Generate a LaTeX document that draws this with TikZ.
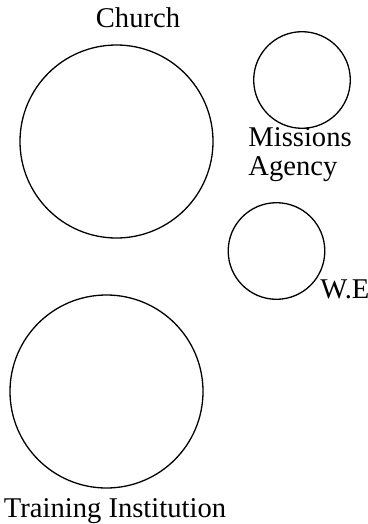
\documentclass[tikz,border=0pt]{standalone}
\usepackage{fontspec}
\setmainfont{Liberation Serif}
\usepackage{tikz}
\usetikzlibrary{positioning}
\tikzstyle{ring} = [circle, draw=black, line width=0.65pt, inner sep=0pt]
\tikzstyle{big} = [ring, minimum size=96.5pt]
\tikzstyle{small} = [ring, minimum size=48.3pt]
\tikzstyle{tag} = [inner sep=0pt, font=\fontsize{14.3}{14}\selectfont]

\begin{document}
\begin{tikzpicture}[x=0.5pt, y=-0.5pt]
          \useasboundingbox (0,0) rectangle (368,524);
          \node (church) [big] at (116.5,141.5) {};
          \node (missions) [small] at (302,80) {};
          \node (we) [small] at (276.5,251) {};
          \node (training) [big] at (106.5,391.5) {};

          \node (churchtag) [tag, anchor=base] at (138,28) {Church};
          \node (missionstag) [tag, anchor=base west, align=left] at (248,175) {Missions\\Agency};
          \node (wetag) [tag, anchor=base west] at (320,298) {W.E};
          \node (trainingtag) [tag, anchor=base] at (115,517) {Training Institution};
        \end{tikzpicture}
\end{document}
